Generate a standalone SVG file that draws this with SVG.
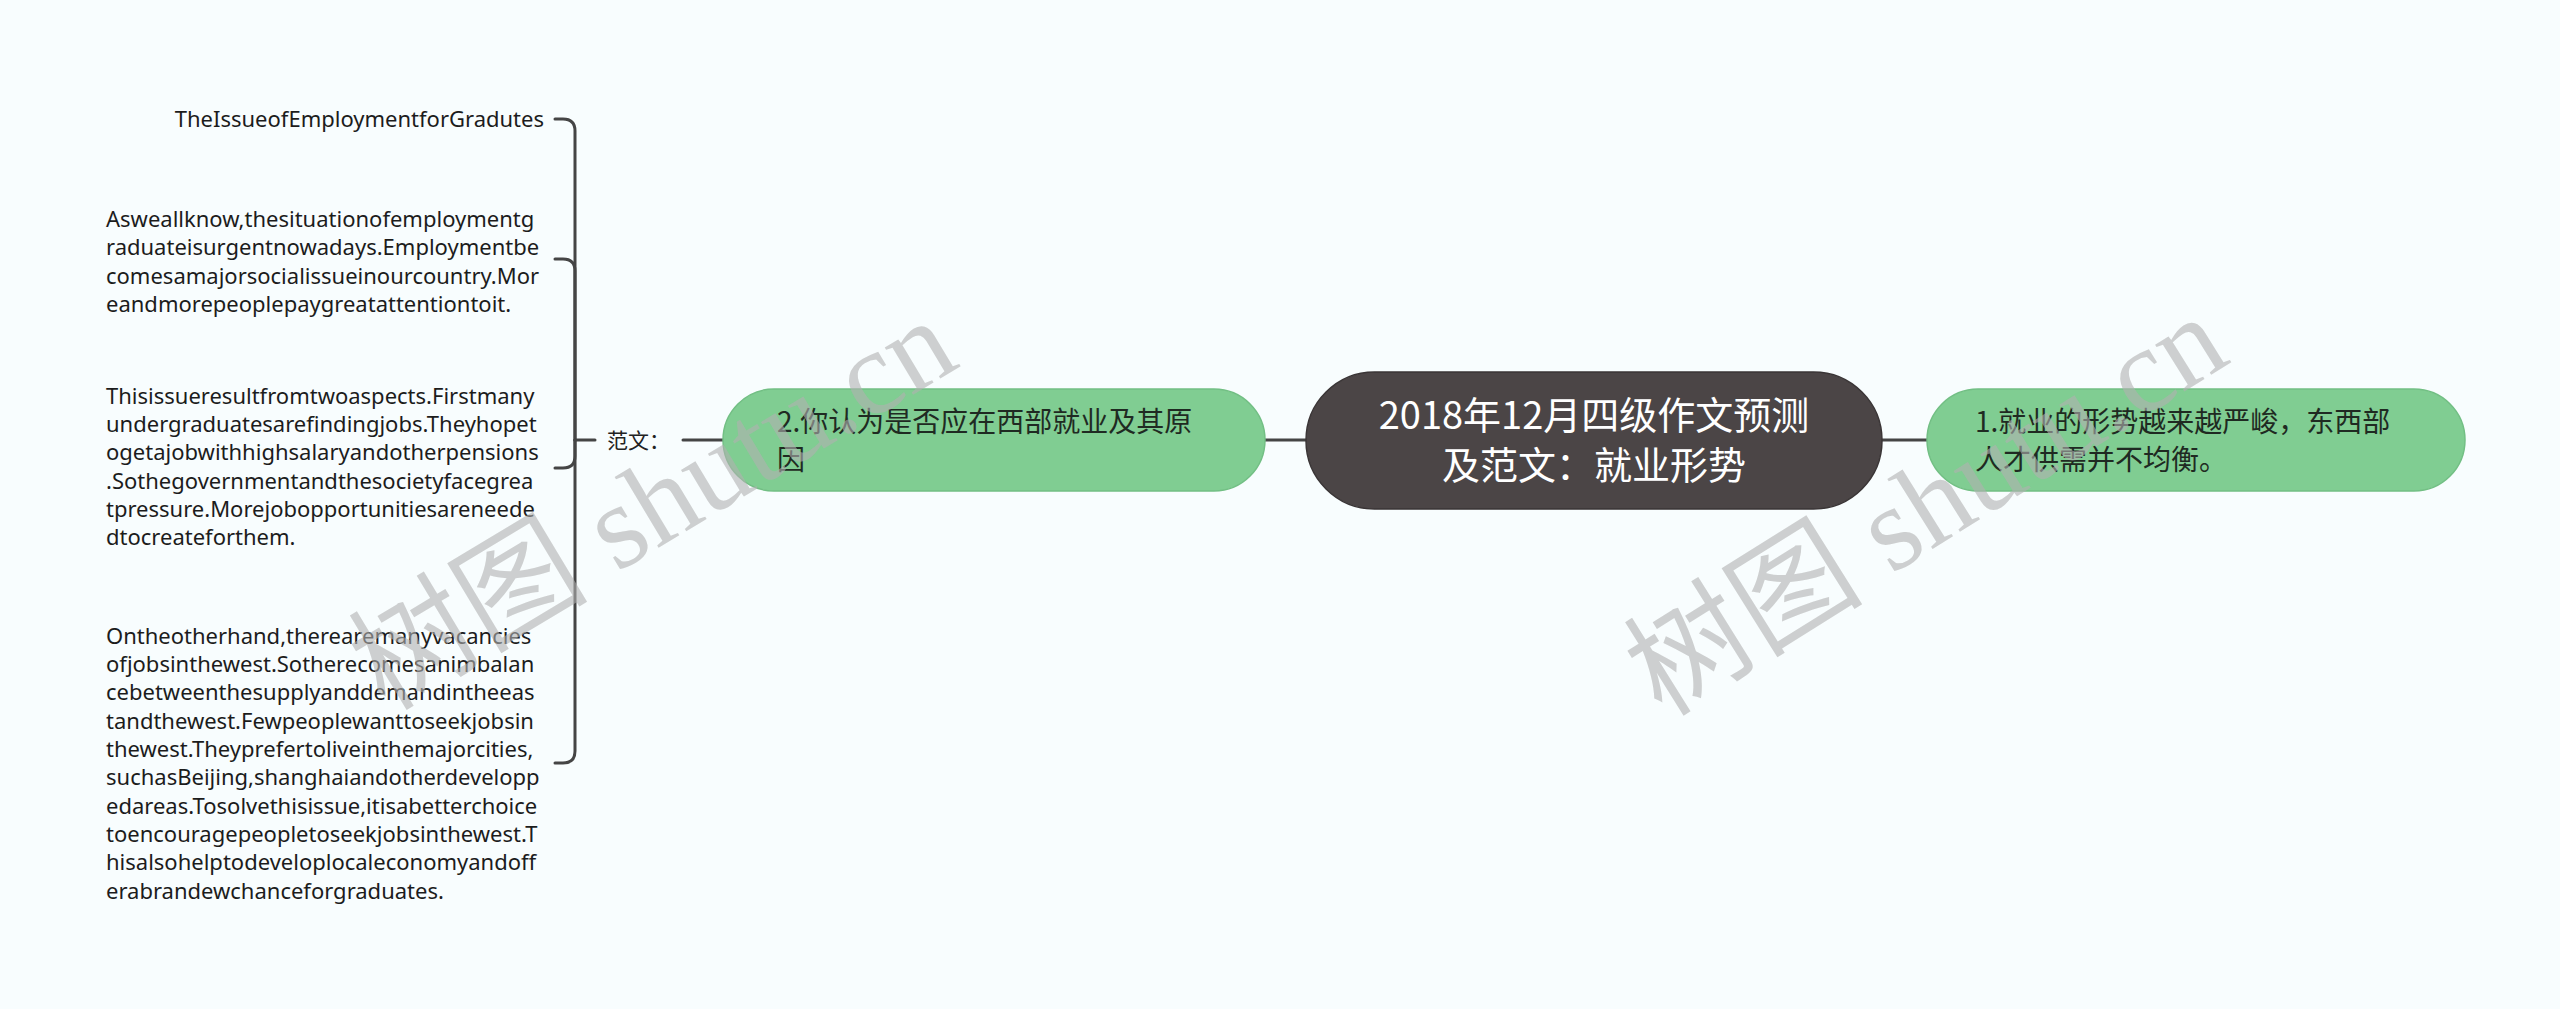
<svg xmlns="http://www.w3.org/2000/svg" width="2560" height="1009" viewBox="0 0 2560 1009">
<style>
.conn{stroke:#454545;stroke-width:3;fill:none;stroke-linecap:round}
.para{font-family:"Noto Sans","Noto Sans CJK SC",sans-serif;font-size:22px;fill:#1c1c1c}
.green{fill:#80CD92;stroke:#72bf84;stroke-width:1.5}
.gtext{font-family:"Noto Sans CJK SC","Noto Sans",sans-serif;font-size:28px;fill:#1f2a22}
.root{fill:#4B4546;stroke:#3a3536;stroke-width:1.5}
.rtext{font-family:"Noto Sans CJK SC","Noto Sans",sans-serif;font-size:38px;fill:#ffffff}
.lbl{font-family:"Noto Sans CJK SC",sans-serif;font-size:21px;fill:#222}
.wm{font-family:"Liberation Serif","Noto Sans CJK SC",serif;font-size:120px;fill:#b0b0b0;fill-opacity:0.6}
</style>
<rect width="2560" height="1009" fill="#F8FDFE"/>
<g id="connectors">
<line class="conn" x1="1882" y1="440" x2="1927" y2="440"/>
<line class="conn" x1="1265" y1="440" x2="1306" y2="440"/>
<line class="conn" x1="683" y1="440" x2="723" y2="440"/>
<line class="conn" x1="575" y1="440" x2="595" y2="440"/>
<path class="conn" d="M575,440 V131 Q575,119 563,119 H555"/>
<path class="conn" d="M575,440 V271 Q575,259 563,259 H555"/>
<path class="conn" d="M575,440 V456 Q575,468 563,468 H555"/>
<path class="conn" d="M575,440 V751 Q575,763 563,763 H555"/>
</g>
<g id="root">
<rect class="root" x="1306" y="372" width="576" height="137" rx="68.5"/>
<text class="rtext" text-anchor="middle" x="1594" y="429">2018年12月四级作文预测</text>
<text class="rtext" text-anchor="middle" x="1594" y="479">及范文：就业形势</text>
</g>
<g id="node-right">
<rect class="green" x="1927" y="389" width="538" height="102" rx="51"/>
<text class="gtext" x="1975" y="432">1.就业的形势越来越严峻，东西部</text>
<text class="gtext" x="1975" y="470">人才供需并不均衡。</text>
</g>
<g id="node-left">
<rect class="green" x="723" y="389" width="542" height="102" rx="51"/>
<text class="gtext" x="777" y="432">2.你认为是否应在西部就业及其原</text>
<text class="gtext" x="777" y="470">因</text>
</g>
<g id="label-fanwen">
<text class="lbl" x="607" y="448">范文：</text>
</g>
<g id="title">
<text class="para" x="544" y="127" text-anchor="end">TheIssueofEmploymentforGradutes</text>
</g>
<g id="para1">
<text class="para" x="106" y="227">Asweallknow,thesituationofemploymentg</text>
<text class="para" x="106" y="255">raduateisurgentnowadays.Employmentbe</text>
<text class="para" x="106" y="284">comesamajorsocialissueinourcountry.Mor</text>
<text class="para" x="106" y="312">eandmorepeoplepaygreatattentiontoit.</text>
</g>
<g id="para2">
<text class="para" x="106" y="404">Thisissueresultfromtwoaspects.Firstmany</text>
<text class="para" x="106" y="432">undergraduatesarefindingjobs.Theyhopet</text>
<text class="para" x="106" y="460">ogetajobwithhighsalaryandotherpensions</text>
<text class="para" x="106" y="489">.Sothegovernmentandthesocietyfacegrea</text>
<text class="para" x="106" y="517">tpressure.Morejobopportunitiesareneede</text>
<text class="para" x="106" y="545">dtocreateforthem.</text>
</g>
<g id="para3">
<text class="para" x="106" y="644">Ontheotherhand,therearemanyvacancies</text>
<text class="para" x="106" y="672">ofjobsinthewest.Sotherecomesanimbalan</text>
<text class="para" x="106" y="700">cebetweenthesupplyanddemandintheeas</text>
<text class="para" x="106" y="729">tandthewest.Fewpeoplewanttoseekjobsin</text>
<text class="para" x="106" y="757">thewest.Theyprefertoliveinthemajorcities,</text>
<text class="para" x="106" y="785">suchasBeijing,shanghaiandotherdevelopp</text>
<text class="para" x="106" y="814">edareas.Tosolvethisissue,itisabetterchoice</text>
<text class="para" x="106" y="842">toencouragepeopletoseekjobsinthewest.T</text>
<text class="para" x="106" y="870">hisalsohelptodeveloplocaleconomyandoff</text>
<text class="para" x="106" y="899">erabrandewchanceforgraduates.</text>
</g>
<g id="watermarks">
<text class="wm" transform="translate(385,712) rotate(-31)">树图 shutu.cn</text>
<text class="wm" transform="translate(1662,718) rotate(-32)">树图 shutu.cn</text>
</g>
</svg>
